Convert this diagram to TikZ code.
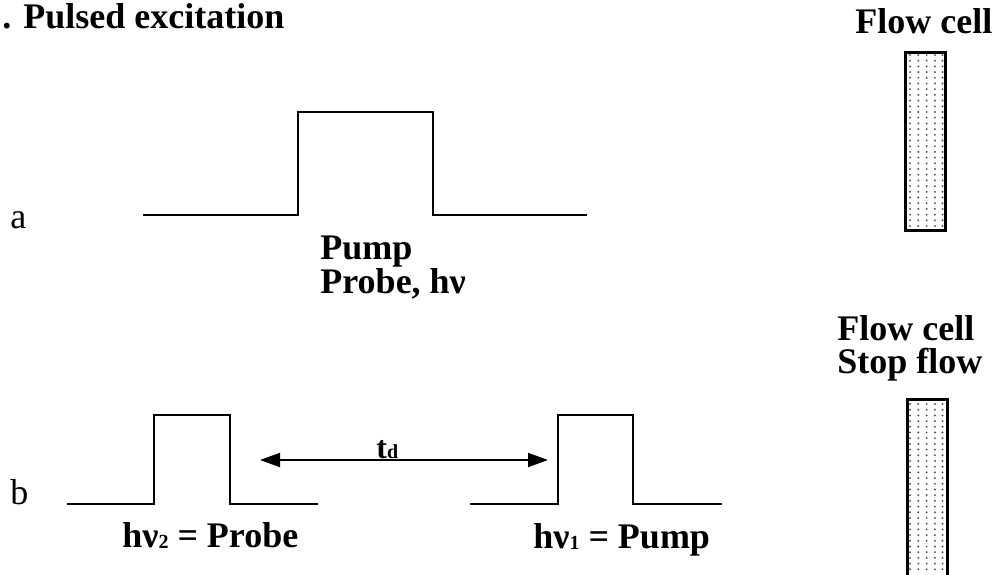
\documentclass[tikz,border=0pt]{standalone}
\usepackage{fontspec}
\setmainfont{Liberation Serif}
\usepackage{tikz}
\usetikzlibrary{arrows.meta,positioning}

\begin{document}
\begin{tikzpicture}[x=0.5pt, y=-0.5pt,
  every node/.style={inner sep=0pt, anchor=base west},
  bigtext/.style={font=\fontsize{18}{17}\selectfont\bfseries},
  sidetext/.style={font=\fontsize{18}{17}\selectfont},
  pulse/.style={line width=1pt},
  cellbox/.style={draw, line width=1.5pt}]
\clip (0,0) rectangle (995,574);
\fill[white] (0,0) rectangle (995,574);

% titles
\node[bigtext] (title) at (2,28) {. Pulsed excitation};
\node[bigtext] (cella) at (855,33) {Flow cell};
\node[bigtext] (cellb) at (837,340) {Flow cell};
\node[bigtext] (stop) at (837,373) {Stop flow};

% case a
\node[sidetext] (la) at (10,228) {a};
\draw[pulse] (143,215) -- (298,215) -- (298,112) -- (433,112) -- (433,215) -- (587,215);
\node[bigtext] (pump) at (320,259) {Pump};
\node[bigtext] (probe) at (320,293) {Probe, hν};

% case b
\node[sidetext] (lb) at (10,504) {b};
\draw[pulse] (67,504) -- (154,504) -- (154,415) -- (230,415) -- (230,504) -- (318,504);
\draw[pulse] (470,504) -- (558,504) -- (558,415) -- (633,415) -- (633,504) -- (722,504);
\node[bigtext] (probeb) at (122,547) {hν\raisebox{-0.5pt}{\fontsize{10}{10}\selectfont 2} = Probe};
\node[bigtext] (pumpb) at (533,548) {hν\raisebox{-0.5pt}{\fontsize{10}{10}\selectfont 1} = Pump};
\coordinate (tdl) at (260,460);
\coordinate (tdr) at (548,460);
\draw[line width=1pt, {Triangle[length=10pt,width=7pt]}-{Triangle[length=10pt,width=7pt]}] (tdl) -- (tdr);
\node[font=\fontsize{16}{16}\selectfont\bfseries] (td) at (376,458) {t\raisebox{-0.3pt}{\fontsize{10}{10}\selectfont d}};

% flow cells
\foreach \xx in {910,918.3,926.6,934.9,942.5} {
  \foreach \yy in {55,60.7,...,228} {
    \fill[black!65] (\xx,\yy) circle (1.1);
  }
  \foreach \yy in {404,409.7,...,574} {
    \fill[black!65] (\xx,\yy) circle (1.1);
  }
}
\draw[cellbox] (905,52) rectangle (945,230);
\draw[cellbox] (907,399) rectangle (947,600);
\end{tikzpicture}
\end{document}
